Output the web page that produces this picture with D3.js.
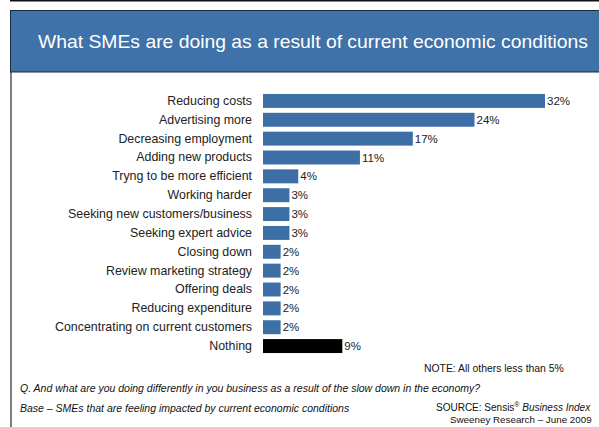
<!DOCTYPE html>
<html>
<head>
<meta charset="utf-8">
<script src="https://cdn.jsdelivr.net/npm/d3@7"></script>
<style>
  html, body { margin: 0; padding: 0; background: #fff; }
  svg { display: block; }
  text { font-family: "Liberation Sans", Arial, sans-serif; }
</style>
</head>
<body>
<svg id="chart" width="599" height="427"></svg>
<script>
// Survey responses: share of SMEs taking each action
const categories = [
  "Reducing costs",
  "Advertising more",
  "Decreasing employment",
  "Adding new products",
  "Tryng to be more efficient",
  "Working harder",
  "Seeking new customers/business",
  "Seeking expert advice",
  "Closing down",
  "Review marketing strategy",
  "Offering deals",
  "Reducing expenditure",
  "Concentrating on current customers",
  "Nothing"
];
const values = [32, 24, 17, 11, 4, 3, 3, 3, 2, 2, 2, 2, 2, 9];
const valueLabels = values.map(v => v + "%");

const titleText = "What SMEs are doing as a result of current economic conditions";
const noteText = "NOTE: All others less than 5%";
const questionText = "Q. And what are you doing differently in you business as a result of the slow down in the economy?";
const baseText = "Base \u2013 SMEs that are feeling impacted by current economic conditions";

const svg = d3.select("#chart");
const W = 599, H = 427;

// frame: top rule, left rule, header band
svg.append("rect").attr("x", 10).attr("y", 0).attr("width", W - 10).attr("height", 1.5).attr("fill", "#111");
svg.append("line").attr("x1", 11).attr("x2", 11).attr("y1", 10).attr("y2", H)
  .attr("stroke", "#555").attr("stroke-width", 1.5);
svg.append("rect").attr("x", 10.5).attr("y", 10.5).attr("width", W - 10).attr("height", 61.5)
  .attr("fill", "#3e72a8").attr("stroke", "#1c2b3c").attr("stroke-width", 1);

svg.append("text")
  .attr("x", 38).attr("y", 48)
  .attr("fill", "#fff")
  .attr("font-size", 19)
  .attr("textLength", 550)
  .attr("lengthAdjust", "spacingAndGlyphs")
  .text(titleText);

// scales
const x = d3.scaleLinear().domain([0, 32]).range([263, 545]);
const y = d3.scaleBand().domain(categories).range([91.5, 355.5]).paddingInner(0.26).paddingOuter(0.13);

const g = svg.append("g");

g.selectAll("rect.bar")
  .data(categories)
  .join("rect")
  .attr("class", "bar")
  .attr("x", x(0))
  .attr("y", d => y(d))
  .attr("width", (d, i) => x(values[i]) - x(0))
  .attr("height", y.bandwidth())
  .attr("fill", d => d === "Nothing" ? "#000" : "#3d6fa6");

// category labels via a left axis without line/ticks
const yAxis = d3.axisLeft(y).tickSize(0).tickPadding(0);
const ax = svg.append("g").attr("transform", `translate(252,0)`).call(yAxis);
ax.select(".domain").remove();
ax.selectAll("text")
  .attr("font-family", "Liberation Sans, Arial, sans-serif")
  .attr("font-size", 12.4)
  .attr("fill", "#222");

// value labels
g.selectAll("text.val")
  .data(categories)
  .join("text")
  .attr("class", "val")
  .attr("x", (d, i) => x(values[i]) + 2)
  .attr("y", d => y(d) + y.bandwidth() / 2)
  .attr("dy", "0.35em")
  .attr("font-size", 11.5)
  .attr("fill", "#222")
  .text((d, i) => valueLabels[i]);

// footnotes
svg.append("text").attr("x", 424).attr("y", 372).attr("font-size", 10.4).attr("fill", "#111").text(noteText);
svg.append("text").attr("x", 20).attr("y", 392).attr("font-size", 10.5).attr("font-style", "italic").attr("fill", "#111").text(questionText);
svg.append("text").attr("x", 20).attr("y", 412).attr("font-size", 10.5).attr("font-style", "italic").attr("fill", "#111").text(baseText);

const src = svg.append("text").attr("x", 436).attr("y", 411).attr("font-size", 10).attr("fill", "#111");
src.append("tspan").text("SOURCE: Sensis");
src.append("tspan").attr("font-size", 7).attr("dy", -4).text("\u00AE");
src.append("tspan").attr("dy", 4).attr("font-style", "italic").text(" Business Index");
svg.append("text").attr("x", 450).attr("y", 423).attr("font-size", 9.8).attr("fill", "#111").text("Sweeney Research \u2013 June 2009");
</script>
</body>
</html>
